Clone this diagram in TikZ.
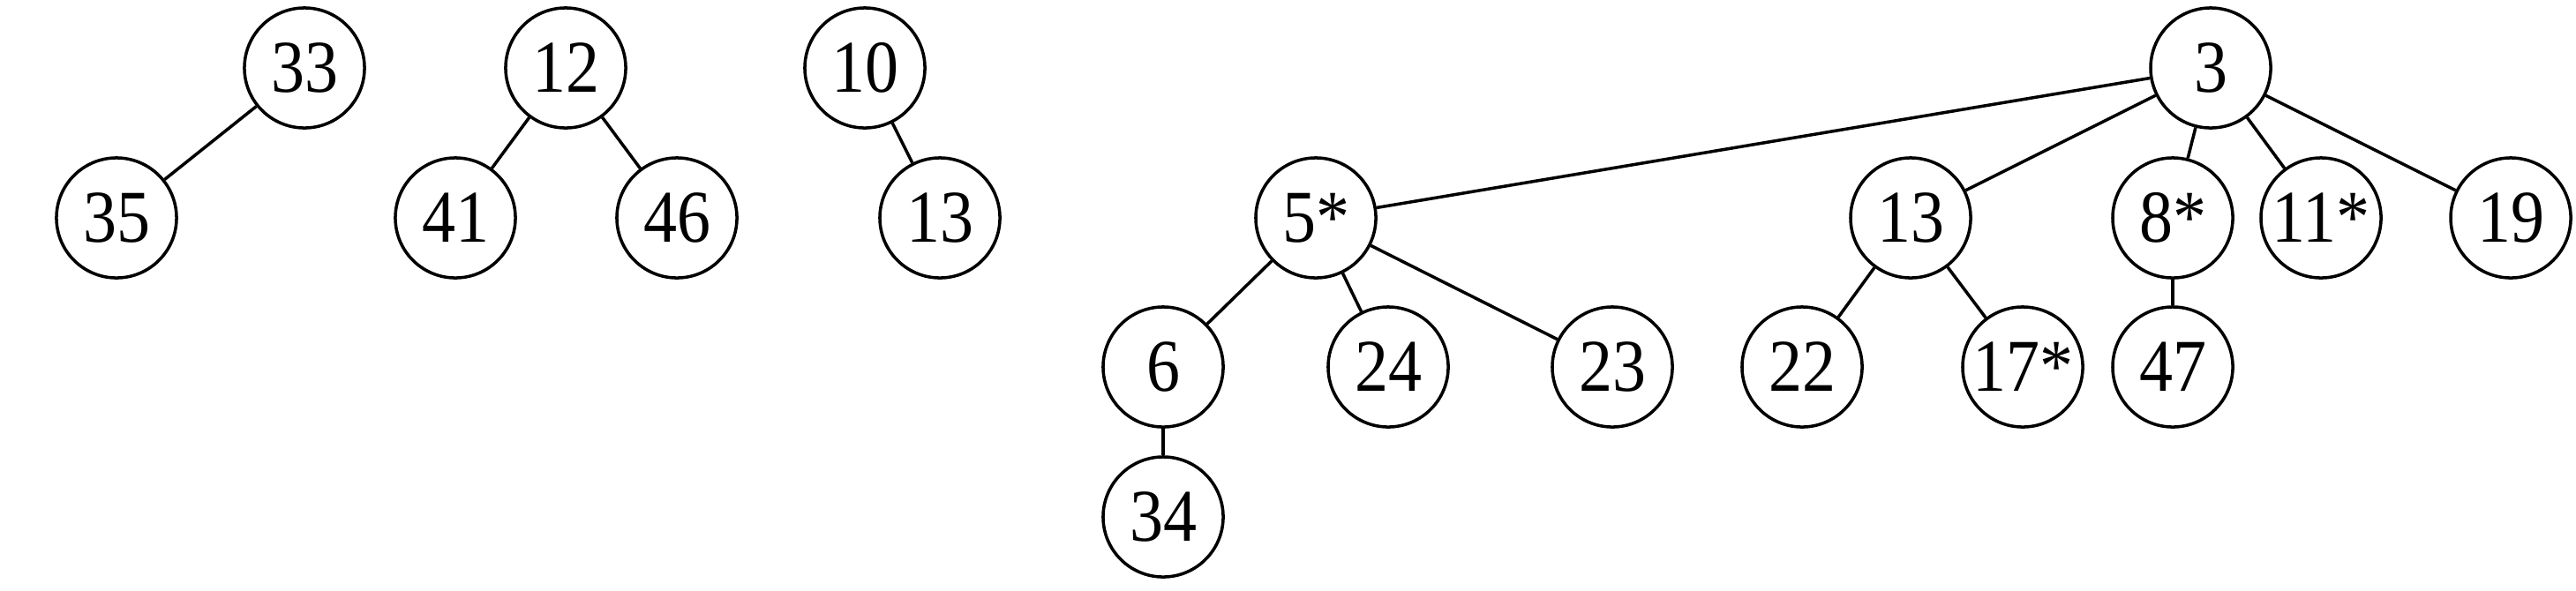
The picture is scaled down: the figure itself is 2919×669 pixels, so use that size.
\documentclass[tikz,border=0pt]{standalone}
\usepackage{fontspec}
\setmainfont[FakeStretch=0.9]{Liberation Serif}
\tikzset{key/.style={draw, circle, line width=1pt, minimum size=1.36cm, inner sep=0pt, font=\fontsize{24}{24}\selectfont}}
\begin{document}
\begin{tikzpicture} [x=0.01cm, y=-0.01cm, line width=1pt]
	\useasboundingbox (0,0) rectangle (2919,669);
	% three small heaps
	\node [key] (n33) at (345,77) {33};
	\node [key] (n35) at (132,247) {35};
	\node [key] (n12) at (641,77) {12};
	\node [key] (n41) at (516,247) {41};
	\node [key] (n46) at (767,247) {46};
	\node [key] (n10) at (980,77) {10};
	\node [key] (n13) at (1065,247) {13};
	\draw (n33) -- (n35);
	\draw (n12) -- (n41) (n12) -- (n46);
	\draw (n10) -- (n13);
	% the big one
	\node [key] (r3) at (2505,77) {3};
	\node [key] (r5) at (1491,247) {5*};
	\node [key] (r13) at (2165,247) {13};
	\node [key] (r8) at (2462,247) {8*};
	\node [key] (r11) at (2630,247) {11*};
	\node [key] (r19) at (2845,247) {19};
	\node [key] (r6) at (1318,416) {6};
	\node [key] (r24) at (1573,416) {24};
	\node [key] (r23) at (1827,416) {23};
	\node [key] (r22) at (2042,416) {22};
	\node [key] (r17) at (2292,416) {17*};
	\node [key] (r47) at (2462,416) {47};
	\node [key] (r34) at (1318,586) {34};
	\draw (r3) -- (r5) (r3) -- (r13) (r3) -- (r8) (r3) -- (r11) (r3) -- (r19);
	\draw (r5) -- (r6) (r5) -- (r24) (r5) -- (r23);
	\draw (r13) -- (r22) (r13) -- (r17);
	\draw (r8) -- (r47);
	\draw (r6) -- (r34);
\end{tikzpicture}
\end{document}
